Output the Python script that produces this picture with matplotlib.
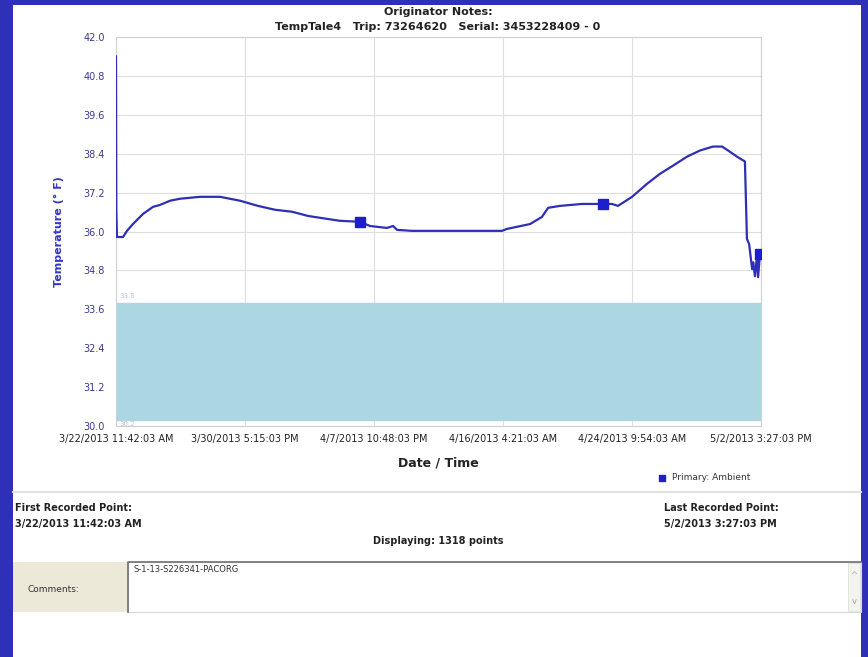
import matplotlib.pyplot as plt
from matplotlib.patches import Rectangle
from matplotlib.lines import Line2D
from datetime import datetime, timedelta

W, H = 868, 657

# dataset
start = datetime(2013, 3, 22, 11, 42, 3)
elapsed_days = [0.00, 0.02, 0.06, 0.45, 0.70, 1.08, 1.72, 2.36, 2.81, 3.45,
                4.08, 4.72, 5.36, 6.64, 7.91, 9.06, 10.15, 11.23, 12.25, 13.46,
                14.29, 15.57, 16.21, 17.29, 17.68, 17.93, 18.89, 20.67, 24.63, 24.95,
                26.42, 27.18, 27.57, 28.33, 29.74, 31.08, 31.65, 32.03, 32.93, 33.88,
                34.71, 35.54, 36.44, 37.27, 38.09, 38.67, 38.99, 39.62, 40.13, 40.26,
                40.40, 40.59, 40.66, 40.77, 40.90, 40.97, 41.09, 41.156]
temps = [41.40, 36.70, 35.83, 35.83, 36.02, 36.23, 36.54, 36.76, 36.82, 36.95,
         37.01, 37.04, 37.07, 37.07, 36.95, 36.79, 36.67, 36.61, 36.48, 36.39,
         36.33, 36.30, 36.17, 36.11, 36.17, 36.05, 36.02, 36.02, 36.02, 36.08,
         36.23, 36.45, 36.73, 36.79, 36.85, 36.85, 36.85, 36.79, 37.07, 37.47,
         37.78, 38.03, 38.31, 38.50, 38.62, 38.62, 38.52, 38.31, 38.16, 35.77,
         35.61, 34.84, 35.05, 34.62, 35.24, 34.59, 35.30, 35.30]
big_markers = [21, 35, 56]

tick_labels = ['3/22/2013 11:42:03 AM', '3/30/2013 5:15:03 PM', '4/7/2013 10:48:03 PM',
               '4/16/2013 4:21:03 AM', '4/24/2013 9:54:03 AM', '5/2/2013 3:27:03 PM']
y_ticks = [30.0, 31.2, 32.4, 33.6, 34.8, 36.0, 37.2, 38.4, 39.6, 40.8, 42.0]
band_low, band_high = 30.2, 33.8

times = [start + timedelta(days=d) for d in elapsed_days]
tick_times = [datetime.strptime(t, '%m/%d/%Y %I:%M:%S %p') for t in tick_labels]


def px(x, y):
    return x / W, 1 - y / H


fig = plt.figure(figsize=(W / 100, H / 100), dpi=100, facecolor='#2E30B8')
fig.patches.append(Rectangle(px(13, 657), 848 / W, 652 / H, transform=fig.transFigure,
                             facecolor='white', edgecolor='none', zorder=-10))

ax = fig.add_axes([116 / W, 1 - 426 / H, 645 / W, 389 / H])
ax.set_zorder(5)
ax.axhspan(band_low, band_high, color='#ABD6E2', zorder=1)
ax.plot(times, temps, color='#2F2FB5', lw=1.6, zorder=3)
ax.plot([times[i] for i in big_markers], [temps[i] for i in big_markers],
        ls='none', marker='s', ms=7, color='#1E1ECC', zorder=4)

ax.set_xlim(tick_times[0], tick_times[-1])
ax.set_ylim(30, 42)
ax.set_yticks(y_ticks)
ax.set_yticklabels([f'{v:.1f}' for v in y_ticks], color='#3A3A8C', fontsize=7)
ax.set_xticks(tick_times)
ax.set_xticklabels(tick_labels, fontsize=7, color='#222222')
ax.tick_params(length=0, pad=8)
ax.tick_params(axis='x', pad=6)
ax.grid(color='#DEDEDE', lw=0.8, zorder=0)
ax.set_axisbelow(True)
for s in ax.spines.values():
    s.set_color('#D0D0D0')
ax.set_ylabel('Temperature (° F)', color='#3535C8', fontsize=8, fontweight='bold', labelpad=14)

ax.text(tick_times[0] + timedelta(hours=6), band_high + 0.12, f'{band_high:.1f}',
        fontsize=5, color='#B8C8D8', va='bottom')
ax.text(tick_times[0] + timedelta(hours=6), band_low - 0.04, f'{band_low:.1f}',
        fontsize=5, color='#B8C8D8', va='top')

# header and footer text
fig.text(*px(438, 12), 'Originator Notes:', ha='center', va='center', fontsize=8, fontweight='bold', color='#222222')
fig.text(*px(438, 27), 'TempTale4   Trip: 73264620   Serial: 3453228409 - 0', ha='center', va='center',
         fontsize=8, fontweight='bold', color='#222222')
fig.text(*px(438, 463), 'Date / Time', ha='center', va='center', fontsize=9, fontweight='bold', color='#222222')

fig.add_artist(Line2D([662 / W], [1 - 478 / H], marker='s', ms=5, color='#1E1ECC', transform=fig.transFigure))
fig.text(*px(672, 478), 'Primary: Ambient', ha='left', va='center', fontsize=6.5, color='#333333')

fig.add_artist(Line2D([13 / W, 861 / W], [1 - 492 / H] * 2, color='#E2E2E2', lw=1.5, transform=fig.transFigure))

fig.text(*px(15, 508), 'First Recorded Point:', ha='left', va='center', fontsize=7, fontweight='bold', color='#222222')
fig.text(*px(15, 524), '3/22/2013 11:42:03 AM', ha='left', va='center', fontsize=7, fontweight='bold', color='#222222')
fig.text(*px(664, 508), 'Last Recorded Point:', ha='left', va='center', fontsize=7, fontweight='bold', color='#222222')
fig.text(*px(664, 524), '5/2/2013 3:27:03 PM', ha='left', va='center', fontsize=7, fontweight='bold', color='#222222')
fig.text(*px(438, 541), 'Displaying: 1318 points', ha='center', va='center', fontsize=7, fontweight='bold', color='#222222')

# comments row
fig.patches.append(Rectangle(px(13, 612), 115 / W, 50 / H, transform=fig.transFigure,
                             facecolor='#ECE9D8', edgecolor='none', zorder=1))
fig.patches.append(Rectangle(px(128, 612), 733 / W, 50 / H, transform=fig.transFigure,
                             facecolor='white', edgecolor='#D8D8D8', lw=0.8, zorder=1))
fig.add_artist(Line2D([128 / W, 128 / W, 861 / W], [1 - 612 / H, 1 - 562 / H, 1 - 562 / H],
                      color='#707070', lw=1.2, transform=fig.transFigure))
fig.patches.append(Rectangle(px(848, 611), 12 / W, 48 / H, transform=fig.transFigure,
                             facecolor='#F4F4EE', edgecolor='#E0E0D8', lw=0.6, zorder=2))
fig.text(*px(854, 575), '^', ha='center', va='center', fontsize=6, color='#AAAAAA')
fig.text(*px(854, 602), 'v', ha='center', va='center', fontsize=6, color='#AAAAAA')
fig.text(*px(28, 590), 'Comments:', ha='left', va='center', fontsize=6.5, color='#333333')
fig.text(*px(133, 569), 'S-1-13-S226341-PACORG', ha='left', va='center', fontsize=6, color='#333333')

fig.savefig('out.png', dpi=100, facecolor=fig.get_facecolor())
